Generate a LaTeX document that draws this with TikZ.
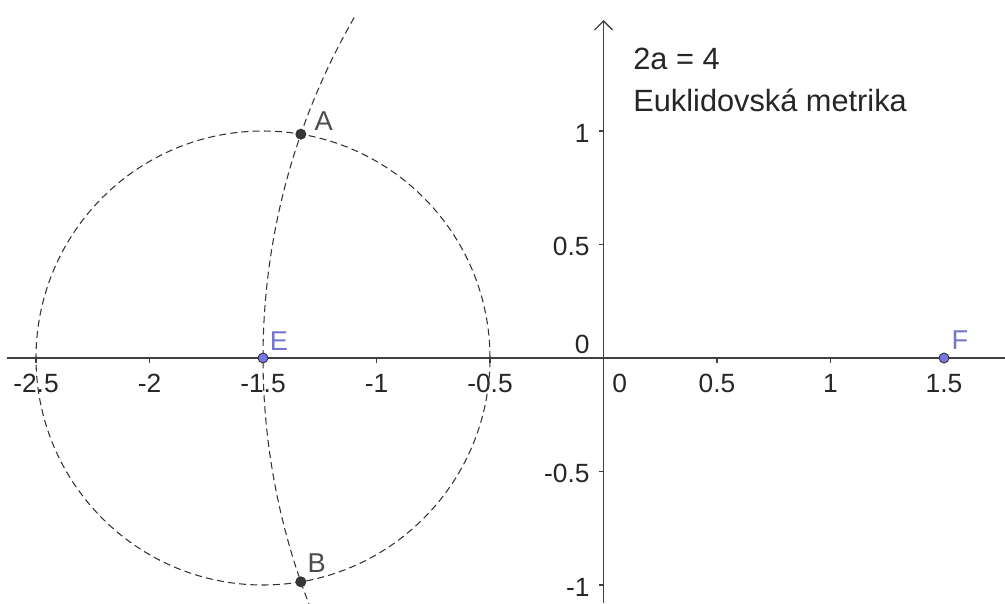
\documentclass[tikz,border=0pt]{standalone}
\usepackage{fontspec}
\setmainfont{Liberation Sans}
\usepackage{xcolor}
\usetikzlibrary{arrows.meta}
\definecolor{axisgray}{RGB}{64,64,64}
\definecolor{ptblue}{RGB}{118,118,228}
\definecolor{lblblue}{RGB}{118,118,205}
\definecolor{ptdark}{RGB}{55,55,55}

\begin{document}
\begin{tikzpicture}[
  x=4.54cm, y=4.54cm,
  >={Straight Barb[length=1.8mm, width=3.6mm]},
  axis/.style={draw=axisgray, line width=0.8pt},
  num/.style={font=\fontsize{15}{18}\selectfont, inner sep=0pt, text=black!85},
  note/.style={font=\fontsize{17.5}{20}\selectfont, inner sep=0pt, anchor=base west, text=black!85},
  dashline/.style={draw=black!80, line width=0.6pt, dash pattern=on 4pt off 2.4pt},
  pt/.style={circle, draw=black!80, line width=0.5pt, inner sep=0pt, minimum size=2mm},
  darkpt/.style={pt, fill=ptdark},
  bluept/.style={pt, fill=ptblue},
  darklbl/.style={font=\fontsize{15.5}{18}\selectfont, inner sep=0pt, text=black!70},
  bluelbl/.style={font=\fontsize{15.5}{18}\selectfont, inner sep=0pt, text=lblblue}
]
\useasboundingbox (-2.6586,-1.0793) rectangle (1.7687,1.5771);

% foci and intersection points
\coordinate (cE) at (-1.5,0);
\coordinate (cF) at (1.5,0);
\coordinate (cA) at (-1.3333,0.9860);
\coordinate (cB) at (-1.3333,-0.9860);

% axes
\draw[axis] (-2.628,0) -- (1.7687,0);
\draw[axis, ->] (0,-1.0793) -- (0,1.489);
\foreach \x in {-2.5,-2,-1.5,-1,-0.5,0.5,1,1.5} {
  \draw[axis] (\x,0) -- ++(0,-0.022);
  \node[num, anchor=base] at (\x,-0.15) {\x};
}
\foreach \y in {-1,-0.5,0.5,1} {
  \draw[axis] (0,\y) -- ++(-0.022,0);
  \node[num, anchor=base east] at (-0.06,{\y-0.05}) {\y};
}
\node[num, anchor=base east] (oy) at (-0.06,0.018) {0};
\node[num, anchor=base west] (ox) at (0.037,-0.15) {0};

% circles
\draw[dashline] (cE) circle[radius=1];
\begin{scope}
  \clip (-2.6586,-1.0793) rectangle (1.7687,1.5771);
  \draw[dashline] (cF) ++(150:3) arc[start angle=150, end angle=215, radius=3];
\end{scope}

% points
\node[darkpt] (A) at (cA) {};
\node[darkpt] (B) at (cB) {};
\node[bluept] (E) at (cE) {};
\node[bluept] (F) at (cF) {};
\node[darklbl] (lA) at ([shift={(0.101,0.057)}]A.center) {A};
\node[darklbl] (lB) at ([shift={(0.070,0.084)}]B.center) {B};
\node[bluelbl] (lE) at ([shift={(0.070,0.075)}]E.center) {E};
\node[bluelbl] (lF) at ([shift={(0.070,0.079)}]F.center) {F};

% text
\node[note] (eq) at (0.13,1.269) {2a = 4};
\node[note] (metric) at (0.13,1.084) {Euklidovská metrika};
\end{tikzpicture}
\end{document}
